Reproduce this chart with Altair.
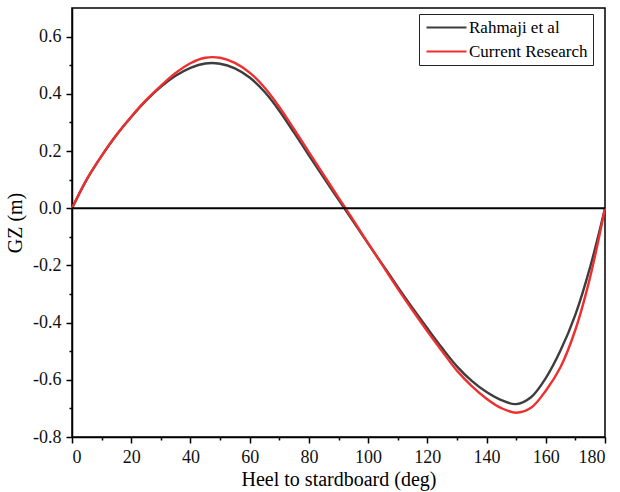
import altair as alt
import pandas as pd

# Heel angle (deg)
heel = [0, 5, 10, 15, 20, 25, 30, 35, 40, 45, 50, 55, 60, 65, 70, 75, 80, 85, 90,
        95, 100, 105, 110, 115, 120, 125, 130, 135, 140, 145, 150, 155, 160, 165,
        170, 175, 180]

# GZ (m) - Rahmaji et al
gz_rahmaji = [0.000, 0.101, 0.183, 0.256, 0.319, 0.376, 0.424, 0.463, 0.491, 0.506,
              0.505, 0.489, 0.457, 0.407, 0.341, 0.264, 0.185, 0.107, 0.030,
              -0.047, -0.124, -0.199, -0.275, -0.349, -0.420, -0.489, -0.553, -0.604,
              -0.643, -0.671, -0.685, -0.661, -0.594, -0.497, -0.372, -0.205, 0.000]

# GZ (m) - Current Research
gz_current = [0.000, 0.101, 0.183, 0.256, 0.320, 0.378, 0.428, 0.473, 0.507, 0.526,
              0.526, 0.508, 0.474, 0.422, 0.354, 0.276, 0.196, 0.116, 0.037,
              -0.042, -0.122, -0.202, -0.281, -0.357, -0.430, -0.500, -0.568, -0.622,
              -0.666, -0.699, -0.715, -0.698, -0.638, -0.555, -0.425, -0.240, 0.000]

series_names = ["Rahmaji et al", "Current Research"]
series_colors = ["#3d3d3d", "#ee2f2f"]

x_major = [0, 20, 40, 60, 80, 100, 120, 140, 160, 180]
x_minor = [10, 30, 50, 70, 90, 110, 130, 150, 170]
y_major = [-0.8, -0.6, -0.4, -0.2, 0.0, 0.2, 0.4, 0.6]
y_minor = [-0.7, -0.5, -0.3, -0.1, 0.1, 0.3, 0.5]

df = pd.concat([
    pd.DataFrame({"heel": heel, "gz": gz_rahmaji, "series": series_names[0], "order": 0}),
    pd.DataFrame({"heel": heel, "gz": gz_current, "series": series_names[1], "order": 1}),
])

FONT = "Liberation Serif"

xscale = alt.Scale(domain=[0, 180], nice=False, zero=False)
yscale = alt.Scale(domain=[-0.8, 0.7], nice=False, zero=False)

ylabel_expr = "datum.value < 0 ? '-' + format(-datum.value, '.1f') : format(datum.value, '.1f')"

lines = alt.Chart(df).mark_line(strokeWidth=2.4, interpolate="catmull-rom").encode(
    x=alt.X("heel:Q", scale=xscale,
            axis=alt.Axis(values=x_major, orient="bottom", title="Heel to stardboard (deg)",
                          format="d", labelPadding=5, titlePadding=3,
                          labelFont=FONT, labelFontSize=18, titleFont=FONT, titleFontSize=20)),
    y=alt.Y("gz:Q", scale=yscale,
            axis=alt.Axis(values=y_major, orient="left", title="GZ (m)",
                          labelExpr=ylabel_expr, labelPadding=5, titlePadding=7,
                          labelFont=FONT, labelFontSize=18, titleFont=FONT, titleFontSize=20)),
    color=alt.Color("series:N",
                    scale=alt.Scale(domain=series_names, range=series_colors),
                    legend=alt.Legend(title=None, orient="none", legendX=347, legendY=6,
                                      symbolType="M-4,0H4", symbolSize=100,
                                      symbolOffset=14,
                                      symbolStrokeWidth=2.2, strokeColor="#222222",
                                      fillColor="white", padding=5, rowPadding=6,
                                      labelOffset=14, labelFont=FONT, labelFontSize=17,
                                      labelColor="black")),
    order="order:Q",
    detail="series:N",
)

zero_df = pd.DataFrame({"y": [0.0]})
zero_rule = alt.Chart(zero_df).mark_rule(color="black", strokeWidth=2).encode(
    y=alt.Y("y:Q", scale=yscale,
            axis=alt.Axis(values=y_minor, orient="left", labels=False, title=None,
                          tickSize=3, domain=False)),
)

minor_df = pd.DataFrame({"x": [0.0], "y": [0.0]})
minor_x = alt.Chart(minor_df).mark_point(opacity=0).encode(
    x=alt.X("x:Q", scale=xscale,
            axis=alt.Axis(values=x_minor, orient="bottom", labels=False, title=None,
                          tickSize=3, domain=False)),
)

chart = alt.layer(lines, zero_rule, minor_x).resolve_axis(
    x="independent", y="independent"
).properties(
    width=533, height=429,
    padding={"left": 72, "top": 8, "right": 15, "bottom": 55},
    autosize=alt.AutoSizeParams(type="none"),
    background="white",
).configure_view(
    stroke="black", strokeWidth=1.5
).configure_axis(
    grid=False, domainColor="black", domainWidth=1.5, tickColor="black",
    tickWidth=1.5, tickSize=6, labelFont=FONT, labelFontSize=18, labelColor="#111111",
    titleFont=FONT, titleFontSize=20, titleFontWeight="normal", titleColor="black",
)

chart.save("out.html", embed_options={"renderer": "svg", "actions": False})
